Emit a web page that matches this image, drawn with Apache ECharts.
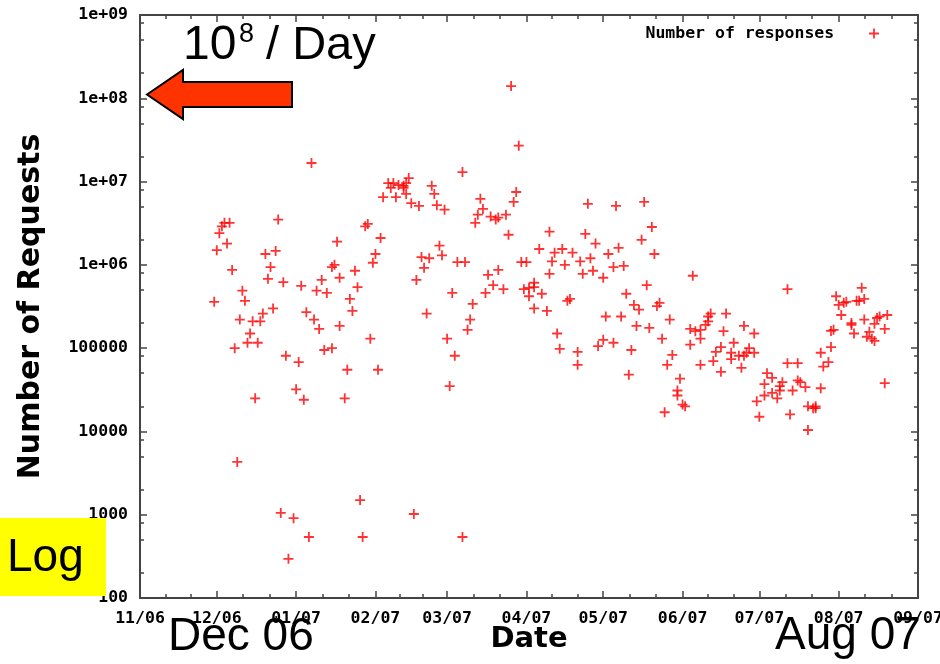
<!DOCTYPE html>
<html>
<head>
<meta charset="utf-8">
<script src="https://cdn.jsdelivr.net/npm/echarts@6/dist/echarts.min.js"></script>
<style>
html,body{margin:0;padding:0;background:#fff;}
#chart{width:940px;height:664px;}
</style>
</head>
<body>
<div id="chart"></div>
<script>
// daily request counts (one line per month)
var dates = [
    '2006-11-30',
    '2006-12-01','2006-12-02','2006-12-03','2006-12-04','2006-12-05','2006-12-06','2006-12-07','2006-12-08','2006-12-09','2006-12-10',
    '2006-12-11','2006-12-12','2006-12-13','2006-12-14','2006-12-15','2006-12-16','2006-12-17','2006-12-18','2006-12-19','2006-12-20',
    '2006-12-21','2006-12-22','2006-12-23','2006-12-24','2006-12-25','2006-12-26','2006-12-27','2006-12-28','2006-12-29','2006-12-31',
    '2007-01-01','2007-01-02','2007-01-03','2007-01-04','2007-01-05','2007-01-06','2007-01-07','2007-01-08','2007-01-09','2007-01-10',
    '2007-01-11','2007-01-12','2007-01-13','2007-01-15','2007-01-15','2007-01-16','2007-01-17','2007-01-18','2007-01-18','2007-01-20',
    '2007-01-21','2007-01-22','2007-01-23','2007-01-24','2007-01-25','2007-01-26','2007-01-27','2007-01-28','2007-01-29','2007-01-30','2007-01-31',
    '2007-02-01','2007-02-02','2007-02-03','2007-02-04','2007-02-06','2007-02-07','2007-02-08','2007-02-09','2007-02-10','2007-02-12',
    '2007-02-12','2007-02-13','2007-02-13','2007-02-14','2007-02-15','2007-02-16','2007-02-17','2007-02-18','2007-02-19','2007-02-20',
    '2007-02-21','2007-02-22','2007-02-23','2007-02-24','2007-02-25','2007-02-26','2007-02-27','2007-02-28',
    '2007-03-01','2007-03-02','2007-03-03','2007-03-04','2007-03-05','2007-03-07','2007-03-07','2007-03-08','2007-03-09','2007-03-10',
    '2007-03-11','2007-03-12','2007-03-13','2007-03-14','2007-03-15','2007-03-16','2007-03-17','2007-03-18','2007-03-19','2007-03-20',
    '2007-03-21','2007-03-21','2007-03-23','2007-03-24','2007-03-25','2007-03-26','2007-03-27','2007-03-28','2007-03-29','2007-03-30','2007-03-31',
    '2007-04-01','2007-04-02','2007-04-02','2007-04-04','2007-04-04','2007-04-04','2007-04-06','2007-04-07','2007-04-09','2007-04-10',
    '2007-04-10','2007-04-11','2007-04-12','2007-04-13','2007-04-14','2007-04-15','2007-04-16','2007-04-17','2007-04-18','2007-04-19',
    '2007-04-21','2007-04-21','2007-04-22','2007-04-23','2007-04-24','2007-04-25','2007-04-26','2007-04-27','2007-04-28','2007-04-29',
    '2007-05-01','2007-05-01','2007-05-02','2007-05-03','2007-05-05','2007-05-05','2007-05-06','2007-05-07','2007-05-08','2007-05-09',
    '2007-05-10','2007-05-11','2007-05-12','2007-05-13','2007-05-14','2007-05-15','2007-05-16','2007-05-17','2007-05-18','2007-05-19',
    '2007-05-20','2007-05-21','2007-05-22','2007-05-23','2007-05-24','2007-05-25','2007-05-26','2007-05-27','2007-05-28','2007-05-30',
    '2007-05-30','2007-05-31',
    '2007-06-01','2007-06-02','2007-06-04','2007-06-04','2007-06-05','2007-06-06','2007-06-08','2007-06-08','2007-06-08','2007-06-10',
    '2007-06-11','2007-06-11','2007-06-12','2007-06-13','2007-06-14','2007-06-16','2007-06-16','2007-06-17','2007-06-18','2007-06-20',
    '2007-06-20','2007-06-21','2007-06-23','2007-06-24','2007-06-25','2007-06-25','2007-06-26','2007-06-27','2007-06-29','2007-06-29','2007-06-30',
    '2007-07-01','2007-07-03','2007-07-03','2007-07-04','2007-07-06','2007-07-06','2007-07-08','2007-07-09','2007-07-09','2007-07-10',
    '2007-07-12','2007-07-12','2007-07-13','2007-07-14','2007-07-16','2007-07-16','2007-07-17','2007-07-19','2007-07-20','2007-07-20',
    '2007-07-22','2007-07-23','2007-07-23','2007-07-25','2007-07-25','2007-07-26','2007-07-28','2007-07-29','2007-07-29','2007-07-30','2007-07-31',
    '2007-08-01','2007-08-02','2007-08-03','2007-08-04','2007-08-06','2007-08-06','2007-08-07','2007-08-08','2007-08-09','2007-08-10',
    '2007-08-11','2007-08-11','2007-08-12','2007-08-13','2007-08-14','2007-08-15','2007-08-15','2007-08-16','2007-08-17','2007-08-19',
    '2007-08-19','2007-08-20'
];
var requests = [
    360000,
    1500000,2400000,2900000,3200000,1800000,3200000,870000,100000,4300,220000,
    490000,370000,116000,150000,210000,25000,116000,210000,260000,1350000,
    680000,940000,300000,1470000,3500000,1050,620000,81000,295,910,
    32000,68000,560000,24000,270000,540,16700000,220000,490000,170000,
    660000,95000,460000,940000,100000,1000000,1900000,185000,700000,25000,
    55000,390000,280000,850000,540000,1500,540,2900000,3100000,130000,1060000,
    1350000,55000,2100000,6500000,9600000,8400000,9600000,6500000,9100000,8400000,
    8900000,7100000,9600000,11000000,5500000,1020,660000,5100000,1240000,920000,
    260000,1200000,8900000,7100000,5200000,1700000,1300000,4600000,
    130000,35000,460000,81000,1080000,540,13000000,1080000,166000,220000,
    340000,3200000,4000000,6200000,4700000,460000,760000,3800000,570000,3500000,
    870000,3700000,510000,4000000,2300000,140000000,5700000,7500000,27000000,1080000,510000,
    1080000,530000,420000,540000,610000,300000,1550000,450000,280000,780000,
    2500000,1100000,1400000,150000,98000,1550000,1000000,370000,390000,1400000,
    63000,90000,1100000,780000,2350000,5400000,1200000,850000,1800000,106000,
    126000,700000,240000,1350000,940000,116000,5100000,1600000,240000,970000,
    450000,48000,95000,330000,185000,290000,2000000,5700000,570000,175000,
    2850000,1350000,320000,350000,130000,17000,63000,220000,83000,27000,
    31000,43000,
    21000,20000,170000,110000,740000,160000,63000,130000,166000,190000,
    210000,240000,260000,70000,90000,103000,52000,160000,260000,74000,
    88000,116000,81000,58000,81000,185000,88000,100000,88000,150000,23000,
    15000,37000,27000,50000,44000,29000,25000,35000,31000,39000,
    510000,66000,16000,31000,41000,66000,39000,34000,20000,10400,
    19000,19000,20000,33000,88000,60000,68000,161000,103000,166000,420000,
    330000,250000,350000,360000,200000,190000,150000,370000,370000,530000,
    390000,220000,137000,157000,130000,122000,196000,230000,240000,38000,
    170000,250000
];
var monthTicks = ['2006-11-01','2006-12-01','2007-01-01','2007-02-01','2007-03-01','2007-04-01',
                  '2007-05-01','2007-06-01','2007-07-01','2007-08-01','2007-09-01'];
var decadeTicks = [100, 1000, 10000, 100000, 1e6, 1e7, 1e8, 1e9];
var minorMantissa = [2, 5, 8];

var chart = echarts.init(document.getElementById('chart'));
var mono = '"DejaVu Sans Mono", monospace';
var sans = '"DejaVu Sans", sans-serif';
var arial = '"Liberation Sans", Arial, sans-serif';
var axisColor = '#444';
var plus = 'path://M4.1,0H5.9V4.1H10V5.9H5.9V10H4.1V5.9H0V4.1H4.1Z';

function ms(d) { return echarts.time.parse(d).getTime(); }

// the x axis runs on timestamps (ms)
var monthMs = monthTicks.map(ms);
var minorTimes = [];
for (var i = 0; i < monthMs.length - 1; i++) {
    var span = monthMs[i + 1] - monthMs[i];
    minorTimes.push(monthMs[i] + span / 3, monthMs[i] + span * 2 / 3);
}
// minor y ticks at 2,5,8 x 10^k, placed on a helper axis in log10 units
var minorLog = [];
for (var k = 2; k < 9; k++) {
    minorMantissa.forEach(function (m) { minorLog.push(Math.log10(m) + k); });
}

var points = dates.map(function (d, i) { return [ms(d), requests[i]]; });

function fmtMonth(v) {
    var d = new Date(v);
    var m = d.getMonth() + 1;
    var y = d.getFullYear() % 100;
    return (m < 10 ? '0' : '') + m + '/' + (y < 10 ? '0' : '') + y;
}
function fmtLog(v) {
    var e = Math.round(Math.log10(v));
    if (e >= 6) return '1e+' + (e < 10 ? '0' : '') + e;
    return String(Math.round(v));
}

var labelStyle = { color: '#000', fontFamily: mono, fontWeight: 'bold', fontSize: 16.5 };
var nameStyle = { color: '#000', fontFamily: sans, fontWeight: 'bold', fontSize: 30 };
var lineOn = { show: true, lineStyle: { color: axisColor, width: 2 } };
var lineOff = { show: false };

function xAx(pos, ticks, len, line, label) {
    return {
        type: 'value', position: pos, min: monthMs[0], max: monthMs[monthMs.length - 1],
        axisLine: line ? lineOn : lineOff,
        axisTick: { show: true, inside: true, length: len, customValues: ticks, lineStyle: { color: axisColor, width: 1.5 } },
        axisLabel: label ? Object.assign({ show: true, customValues: monthMs, formatter: fmtMonth, margin: 12 }, labelStyle) : { show: false },
        splitLine: { show: false }
    };
}
function yLog(pos, label) {
    return {
        type: 'log', logBase: 10, position: pos, min: 100, max: 1e9, splitNumber: 7,
        axisLine: lineOn,
        axisTick: { show: true, inside: true, length: 7, lineStyle: { color: axisColor, width: 1.5 } },
        axisLabel: label ? Object.assign({ show: true, formatter: fmtLog, margin: 12 }, labelStyle) : { show: false },
        splitLine: { show: false },
        minorTick: { show: false }
    };
}
function yMinor(pos) {
    return {
        type: 'value', position: pos, min: 2, max: 9,
        axisLine: lineOff,
        axisTick: { show: true, inside: true, length: 4, customValues: minorLog, lineStyle: { color: axisColor, width: 1.5 } },
        axisLabel: { show: false },
        splitLine: { show: false }
    };
}

var xMain = xAx('bottom', monthMs, 7, true, true);
xMain.name = 'Date';
xMain.nameLocation = 'middle';
xMain.nameGap = 27;
xMain.nameMoveOverlap = false;
xMain.nameTextStyle = Object.assign({}, nameStyle, { fontSize: 29 });

var yMain = yLog('left', true);
yMain.name = 'Number of Requests';
yMain.nameLocation = 'middle';
yMain.nameGap = 94;
yMain.nameMoveOverlap = false;
yMain.nameTextStyle = nameStyle;

var option = {
    animation: false,
    backgroundColor: '#fff',
    grid: { left: 140, right: 22, top: 15, bottom: 66, containLabel: false, outerBoundsMode: 'none' },
    legend: {
        data: ['Number of responses'],
        right: 56, top: 20, align: 'right',
        itemWidth: 10, itemHeight: 10, icon: plus,
        formatter: function (n) { return n + '   '; },
        textStyle: labelStyle
    },
    xAxis: [
        xMain,
        xAx('bottom', minorTimes, 4, false, false),
        xAx('top', monthMs, 7, true, false),
        xAx('top', minorTimes, 4, false, false)
    ],
    yAxis: [
        yMain,
        yMinor('left'),
        yLog('right', false),
        yMinor('right')
    ],
    series: [{
        name: 'Number of responses',
        type: 'scatter',
        xAxisIndex: 0, yAxisIndex: 0,
        symbol: plus, symbolSize: 10,
        itemStyle: { color: '#ff0000' },
        data: points
    }],
    // slide annotations drawn over the plot
    graphic: [
        { type: 'polygon', z: 100,
          shape: { points: [[147, 94.5], [183, 70], [183, 82], [292, 82], [292, 107], [183, 107], [183, 119]] },
          style: { fill: '#ff3300', stroke: '#000', lineWidth: 2 } },
        { type: 'text', z: 100, style: { text: '10', x: 183, y: 46, font: '48px ' + arial, fill: '#000', verticalAlign: 'middle', textVerticalAlign: 'middle' } },
        { type: 'text', z: 100, style: { text: '8', x: 239, y: 35, font: '27px ' + arial, fill: '#000', verticalAlign: 'middle', textVerticalAlign: 'middle' } },
        { type: 'text', z: 100, style: { text: ' / Day', x: 253, y: 46, font: '47px ' + arial, fill: '#000', verticalAlign: 'middle', textVerticalAlign: 'middle' } },
        { type: 'rect', z: 100, shape: { x: 0, y: 518, width: 106, height: 78 }, style: { fill: '#ffff00' } },
        { type: 'text', z: 101, style: { text: 'Log', x: 7, y: 558, font: '46px ' + arial, fill: '#000', verticalAlign: 'middle', textVerticalAlign: 'middle' } },
        { type: 'text', z: 100, style: { text: 'Dec 06', x: 168, y: 637, font: '46px ' + arial, fill: '#000', verticalAlign: 'middle', textVerticalAlign: 'middle' } },
        { type: 'text', z: 100, style: { text: 'Aug 07', x: 775, y: 636, font: '46px ' + arial, fill: '#000', verticalAlign: 'middle', textVerticalAlign: 'middle' } }
    ]
};

chart.setOption(option);
</script>
</body>
</html>
